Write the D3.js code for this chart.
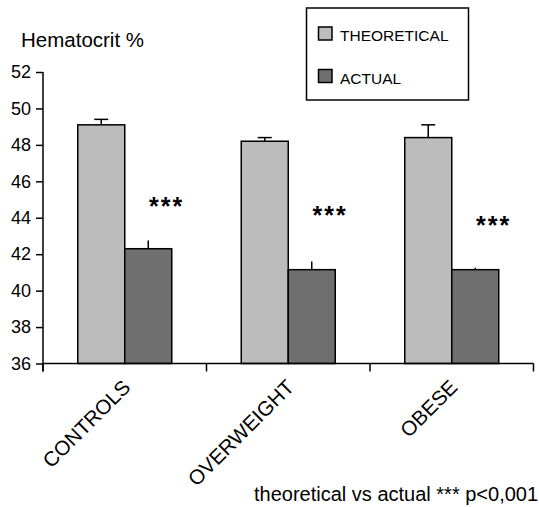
<!DOCTYPE html>
<html>
<head>
<meta charset="utf-8">
<script src="https://cdn.jsdelivr.net/npm/d3@7"></script>
<style>
  body { margin: 0; background: #fff; }
  svg { font-family: "Liberation Sans", Arial, sans-serif; }
</style>
</head>
<body>
<svg id="chart" width="539" height="507"></svg>
<script>
const categories = ["CONTROLS", "OVERWEIGHT", "OBESE"];
const series = ["THEORETICAL", "ACTUAL"];
const theoretical = [49.1, 48.2, 48.4];
const theoreticalErr = [0.3, 0.2, 0.7];
const actual = [42.3, 41.15, 41.15];
const actualErr = [0.45, 0.45, 0.1];
const starLevel = [44.7, 44.2, 43.65];
const yTicks = [36, 38, 40, 42, 44, 46, 48, 50, 52];
const colors = ["#bcbcbc", "#6f6f6f"];

const svg = d3.select("#chart");
const margin = { top: 72, left: 43, right: 5.5, bottom: 143.5 };
const width = +svg.attr("width");
const height = +svg.attr("height");

const x = d3.scaleBand()
    .domain(categories)
    .range([margin.left, width - margin.right]);
const y = d3.scaleLinear()
    .domain([36, 52])
    .range([height - margin.bottom, margin.top]);

const barW = 47;
const data = categories.map((c, i) => ({
    cat: c,
    vals: [
        { s: 0, v: theoretical[i], e: theoreticalErr[i] },
        { s: 1, v: actual[i], e: actualErr[i] }
    ]
}));

// bars
const groups = svg.selectAll("g.grp")
    .data(data)
    .enter()
    .append("g")
    .attr("class", "grp");

groups.selectAll("line.err")
    .data(d => d.vals.map(v => ({ ...v, cat: d.cat })))
    .enter()
    .append("line")
    .attr("x1", d => x(d.cat) + x.bandwidth() / 2 + (d.s - 0.5) * barW)
    .attr("x2", d => x(d.cat) + x.bandwidth() / 2 + (d.s - 0.5) * barW)
    .attr("y1", d => y(d.v))
    .attr("y2", d => y(d.v + d.e))
    .attr("stroke", "#000")
    .attr("stroke-width", 1.5);

// caps only on theoretical
groups.append("line")
    .attr("x1", d => x(d.cat) + x.bandwidth() / 2 - barW / 2 - 7)
    .attr("x2", d => x(d.cat) + x.bandwidth() / 2 - barW / 2 + 7)
    .attr("y1", d => y(d.vals[0].v + d.vals[0].e))
    .attr("y2", d => y(d.vals[0].v + d.vals[0].e))
    .attr("stroke", "#000")
    .attr("stroke-width", 1.5);

groups.selectAll("rect")
    .data(d => d.vals.map(v => ({ ...v, cat: d.cat })))
    .enter()
    .append("rect")
    .attr("x", d => x(d.cat) + x.bandwidth() / 2 - barW + d.s * barW)
    .attr("y", d => y(d.v))
    .attr("width", barW)
    .attr("height", d => y(36) - y(d.v))
    .attr("fill", d => colors[d.s])
    .attr("stroke", "#000")
    .attr("stroke-width", 1.5);

// significance stars
svg.selectAll("text.star")
    .data(categories)
    .enter()
    .append("text")
    .attr("x", (d, i) => x(d) + x.bandwidth() * 0.75 + 1)
    .attr("y", (d, i) => y(starLevel[i]) + 10)
    .attr("text-anchor", "middle")
    .attr("font-size", 25)
    .attr("font-weight", "bold")
    .attr("letter-spacing", 2)
    .text("***");

// y axis
const yAxis = svg.append("g")
    .attr("transform", `translate(${margin.left},0)`)
    .call(d3.axisLeft(y).tickValues(yTicks).tickSize(7).tickPadding(5));
yAxis.select(".domain").attr("d", `M0,${margin.top}V${y(36) + 8}`);
yAxis.selectAll("line").attr("stroke-width", 1.5);
yAxis.select(".domain").attr("stroke-width", 1.5);
yAxis.selectAll("text").attr("font-size", 18).attr("fill", "#000");

// x axis with ticks at band edges
const xAxis = svg.append("g");
xAxis.append("line")
    .attr("x1", margin.left)
    .attr("x2", width - margin.right)
    .attr("y1", y(36))
    .attr("y2", y(36))
    .attr("stroke", "#000")
    .attr("stroke-width", 1.5);
const edges = categories.map(c => x(c)).concat([x(categories[2]) + x.bandwidth()]);
xAxis.selectAll("line.tick")
    .data(edges)
    .enter()
    .append("line")
    .attr("x1", d => d)
    .attr("x2", d => d)
    .attr("y1", y(36))
    .attr("y2", y(36) + 8)
    .attr("stroke", "#000")
    .attr("stroke-width", 1.5);
xAxis.selectAll("text")
    .data(categories)
    .enter()
    .append("text")
    .attr("transform", d => `translate(${x(d) + x.bandwidth() / 2 + 7},${y(36) + 25}) rotate(-45)`)
    .attr("text-anchor", "end")
    .attr("font-size", 20.5)
    .text(d => d);

// axis title
svg.append("text")
    .attr("x", 21)
    .attr("y", 47)
    .attr("font-size", 20.5)
    .text("Hematocrit %");

// legend
const legend = svg.append("g");
legend.append("rect")
    .attr("x", 306.5)
    .attr("y", 8)
    .attr("width", 162)
    .attr("height", 92)
    .attr("fill", "#fff")
    .attr("stroke", "#000")
    .attr("stroke-width", 1.5);
series.forEach((s, i) => {
    legend.append("rect")
        .attr("x", 318.5)
        .attr("y", 27 + i * 42.5)
        .attr("width", 13.5)
        .attr("height", 13)
        .attr("fill", colors[i])
        .attr("stroke", "#000")
        .attr("stroke-width", 1.5);
    legend.append("text")
        .attr("x", 340)
        .attr("y", 41 + i * 43)
        .attr("font-size", 15.5)
        .text(s);
});

// footnote
svg.append("text")
    .attr("x", 254)
    .attr("y", 501)
    .attr("font-size", 20)
    .text("theoretical vs actual *** p<0,001");
</script>
</body>
</html>
